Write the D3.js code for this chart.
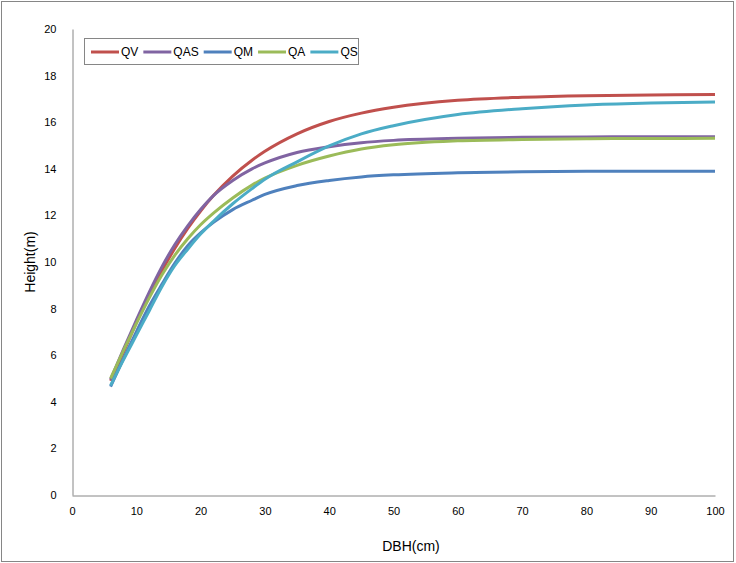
<!DOCTYPE html>
<html><head><meta charset="utf-8">
<script src="https://cdn.jsdelivr.net/npm/d3@7"></script>
<style>body{margin:0;background:#fff}svg{display:block}text{font-family:"Liberation Sans",Arial,sans-serif;fill:#000}</style>
</head><body><svg id="c" width="736" height="563"></svg>
<script>
const dbh = [6,8,10,12,14,16,18,20,22,25,28,30,35,40,45,50,60,70,80,90,100];
const seriesNames = ["QV","QAS","QM","QA","QS"];
const QV  = [4.9,6.12,7.4,8.57,9.63,10.59,11.44,12.19,12.85,13.69,14.37,14.75,15.5,16.03,16.39,16.64,16.94,17.07,17.14,17.17,17.19];
const QAS = [4.95,6.25,7.5,8.7,9.8,10.75,11.55,12.25,12.85,13.5,14.0,14.25,14.7,14.95,15.12,15.22,15.31,15.35,15.37,15.38,15.38];
const QM  = [4.65,5.85,7.0,8.1,9.05,9.95,10.7,11.25,11.7,12.25,12.65,12.9,13.28,13.5,13.65,13.74,13.83,13.87,13.89,13.9,13.9];
const QA  = [5.0,6.2,7.35,8.45,9.45,10.3,11.0,11.6,12.1,12.75,13.3,13.6,14.15,14.55,14.85,15.03,15.2,15.26,15.29,15.3,15.31];
const QS  = [4.7,5.8,6.85,7.9,8.95,9.85,10.55,11.2,11.75,12.5,13.15,13.55,14.3,14.98,15.5,15.85,16.33,16.58,16.74,16.82,16.87];
const colors = ["#C0504D","#8064A2","#4F81BD","#9BBB59","#4BACC6"];
const xTicks = [0,10,20,30,40,50,60,70,80,90,100];
const yTicks = [0,2,4,6,8,10,12,14,16,18,20];
const xTitle = "DBH(cm)", yTitle = "Height(m)";

const values = [QV,QAS,QM,QA,QS];
const svg = d3.select("#c");
svg.append("rect").attr("x",1.5).attr("y",1.5).attr("width",732).attr("height",560)
  .attr("fill","#fff").attr("stroke","#868686").attr("stroke-width",1);

const x = d3.scaleLinear().domain([0,100]).range([72,715]);
const y = d3.scaleLinear().domain([0,20]).range([495,29]);

const gx = svg.append("g").attr("transform","translate(0,495.5)")
  .call(d3.axisBottom(x).tickValues(xTicks).tickSize(0).tickPadding(12));
const gy = svg.append("g").attr("transform","translate(72.5,0)")
  .call(d3.axisLeft(y).tickValues(yTicks).tickSize(0).tickPadding(16));
[gx,gy].forEach(g=>{
  g.select(".domain").attr("stroke","#868686").attr("stroke-width",1);
  g.selectAll("text").attr("font-size",11).attr("font-family","'Liberation Sans',Arial,sans-serif").attr("fill","#000");
});

svg.append("text").attr("x",411).attr("y",551).attr("text-anchor","middle").attr("font-size",14).text(xTitle);
svg.append("text").attr("transform","translate(35,262) rotate(-90)").attr("text-anchor","middle").attr("font-size",14).text(yTitle);

const line = d3.line().x(d=>x(d[0])).y(d=>y(d[1])).curve(d3.curveMonotoneX);
seriesNames.forEach((n,i)=>{
  const pts = dbh.map((d,j)=>[d,values[i][j]]);
  svg.append("path").attr("d",line(pts)).attr("fill","none")
    .attr("stroke",colors[i]).attr("stroke-width",3).attr("stroke-linecap","butt");
});

// legend
const lg = svg.append("g");
lg.append("rect").attr("x",84.5).attr("y",38.5).attr("width",274).attr("height",26)
  .attr("fill","#fff").attr("stroke","#868686");
let cx = 91;
seriesNames.forEach((n,i)=>{
  lg.append("line").attr("x1",cx).attr("x2",cx+28).attr("y1",52).attr("y2",52)
    .attr("stroke",colors[i]).attr("stroke-width",3);
  const t = lg.append("text").attr("x",cx+30).attr("y",56).attr("font-size",12).text(n);
  const w = t.node().getComputedTextLength();
  cx = cx + 30 + w + 5;
});
</script></body></html>
